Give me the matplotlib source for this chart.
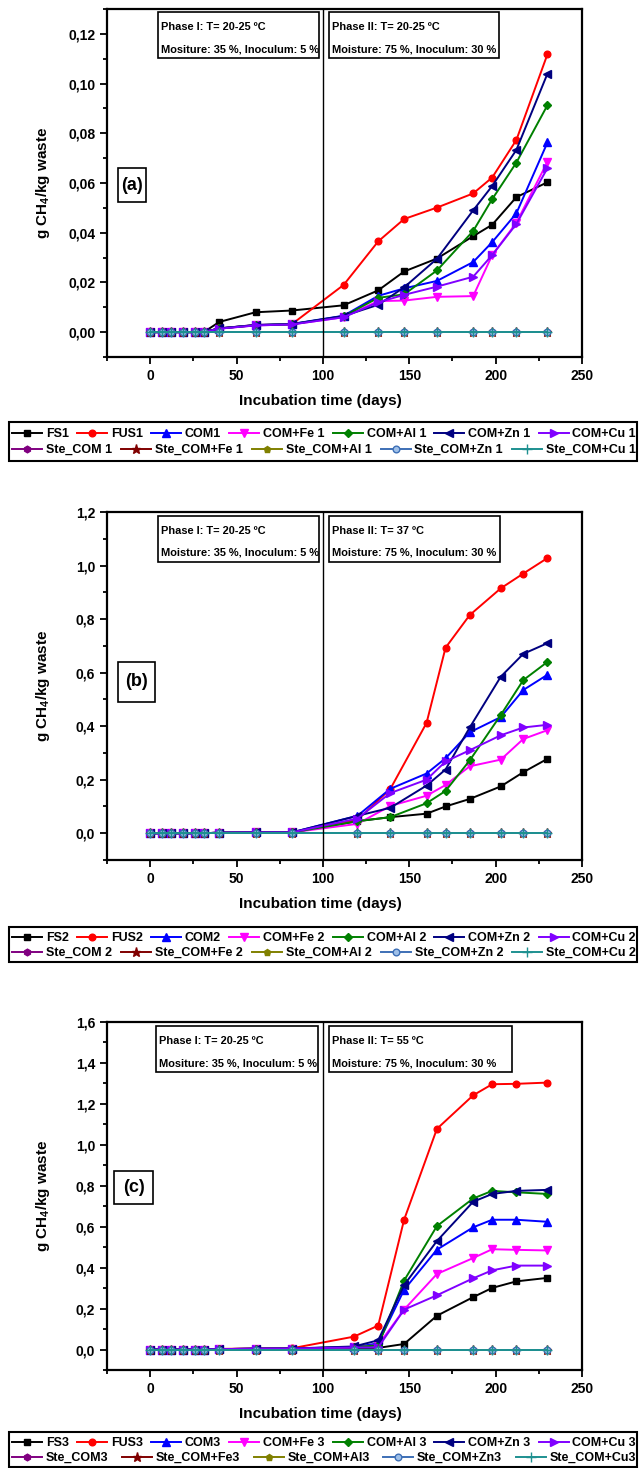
import matplotlib.pyplot as plt
from matplotlib.patches import Rectangle
from matplotlib.ticker import MultipleLocator, FuncFormatter

plt.rcParams['font.family'] = ['Liberation Sans', 'DejaVu Sans']
plt.rcParams['font.weight'] = 'bold'
plt.rcParams['axes.labelweight'] = 'bold'
plt.rcParams['mathtext.fontset'] = 'custom'
plt.rcParams['mathtext.rm'] = 'Liberation Sans:bold'
plt.rcParams['mathtext.bf'] = 'Liberation Sans:bold'
plt.rcParams['mathtext.default'] = 'bf'

# incubation days for each experiment
days1 = [0, 7, 12, 19, 26, 31, 40, 61, 82, 112, 132, 147, 166, 187, 198, 212, 230]
days2 = [0, 7, 12, 19, 26, 31, 40, 61, 82, 120, 139, 160, 171, 185, 203, 216, 230]
days3 = [0, 7, 12, 19, 26, 31, 40, 61, 82, 118, 132, 147, 166, 187, 198, 212, 230]

# sterilised controls gave no methane
ste_zero = [0, 0, 0, 0, 0, 0, 0, 0, 0, 0, 0, 0, 0, 0, 0, 0, 0]

# (a) phase II at 20-25 C
fs1 = [0, 0, 0, 0, 0, 0, 0.0041, 0.0080, 0.0087, 0.0108, 0.0168, 0.0244, 0.0296, 0.0386, 0.0432, 0.0543, 0.0603]
fus1 = [0, 0, 0, 0, 0, 0, 0.0015, 0.0029, 0.0032, 0.0190, 0.0365, 0.0455, 0.0501, 0.0558, 0.0622, 0.0773, 0.1118]
com1 = [0, 0, 0, 0, 0, 0, 0.0015, 0.0029, 0.0033, 0.0066, 0.0146, 0.0176, 0.0206, 0.0282, 0.0362, 0.0478, 0.0763]
fe1 = [0, 0, 0, 0, 0, 0, 0.0014, 0.0027, 0.0031, 0.0060, 0.0125, 0.0127, 0.0142, 0.0145, 0.0310, 0.0440, 0.0685]
al1 = [0, 0, 0, 0, 0, 0, 0.0015, 0.0028, 0.0032, 0.0064, 0.0138, 0.0152, 0.0248, 0.0407, 0.0535, 0.0682, 0.0913]
zn1 = [0, 0, 0, 0, 0, 0, 0.0015, 0.0028, 0.0032, 0.0065, 0.0110, 0.0180, 0.0295, 0.0490, 0.0588, 0.0733, 0.1040]
cu1 = [0, 0, 0, 0, 0, 0, 0.0014, 0.0027, 0.0031, 0.0060, 0.0120, 0.0150, 0.0183, 0.0223, 0.0310, 0.0435, 0.0660]

# (b) phase II at 37 C
fs2 = [0, 0, 0, 0, 0, 0, 0.002, 0.003, 0.003, 0.045, 0.060, 0.073, 0.100, 0.128, 0.175, 0.228, 0.278]
fus2 = [0, 0, 0, 0, 0, 0, 0.002, 0.003, 0.003, 0.050, 0.165, 0.412, 0.693, 0.815, 0.915, 0.970, 1.028]
com2 = [0, 0, 0, 0, 0, 0, 0.002, 0.003, 0.003, 0.065, 0.166, 0.223, 0.280, 0.377, 0.434, 0.535, 0.592]
fe2 = [0, 0, 0, 0, 0, 0, 0.002, 0.003, 0.003, 0.035, 0.102, 0.140, 0.180, 0.250, 0.275, 0.352, 0.385]
al2 = [0, 0, 0, 0, 0, 0, 0.002, 0.003, 0.003, 0.045, 0.060, 0.112, 0.158, 0.272, 0.442, 0.572, 0.640]
zn2 = [0, 0, 0, 0, 0, 0, 0.002, 0.003, 0.003, 0.065, 0.095, 0.178, 0.238, 0.395, 0.585, 0.670, 0.710]
cu2 = [0, 0, 0, 0, 0, 0, 0.002, 0.003, 0.003, 0.055, 0.150, 0.200, 0.268, 0.310, 0.366, 0.395, 0.405]

# (c) phase II at 55 C
fs3 = [0, 0, 0, 0, 0, 0, 0.002, 0.004, 0.005, 0.008, 0.008, 0.027, 0.165, 0.256, 0.301, 0.333, 0.350]
fus3 = [0, 0, 0, 0, 0, 0, 0.003, 0.005, 0.006, 0.063, 0.117, 0.634, 1.078, 1.242, 1.296, 1.298, 1.304]
com3 = [0, 0, 0, 0, 0, 0, 0.002, 0.004, 0.005, 0.012, 0.030, 0.292, 0.488, 0.597, 0.634, 0.634, 0.624]
fe3 = [0, 0, 0, 0, 0, 0, 0.002, 0.004, 0.005, 0.010, 0.022, 0.195, 0.369, 0.447, 0.490, 0.487, 0.484]
al3 = [0, 0, 0, 0, 0, 0, 0.002, 0.004, 0.005, 0.012, 0.020, 0.337, 0.603, 0.738, 0.775, 0.768, 0.760]
zn3 = [0, 0, 0, 0, 0, 0, 0.002, 0.004, 0.005, 0.015, 0.045, 0.315, 0.530, 0.722, 0.760, 0.775, 0.780]
cu3 = [0, 0, 0, 0, 0, 0, 0.002, 0.004, 0.005, 0.010, 0.010, 0.195, 0.265, 0.348, 0.387, 0.410, 0.410]

labels1 = ['FS1', 'FUS1', 'COM1', 'COM+Fe 1', 'COM+Al 1', 'COM+Zn 1', 'COM+Cu 1',
           'Ste_COM 1', 'Ste_COM+Fe 1', 'Ste_COM+Al 1', 'Ste_COM+Zn 1', 'Ste_COM+Cu 1']
labels2 = ['FS2', 'FUS2', 'COM2', 'COM+Fe 2', 'COM+Al 2', 'COM+Zn 2', 'COM+Cu 2',
           'Ste_COM 2', 'Ste_COM+Fe 2', 'Ste_COM+Al 2', 'Ste_COM+Zn 2', 'Ste_COM+Cu 2']
labels3 = ['FS3', 'FUS3', 'COM3', 'COM+Fe 3', 'COM+Al 3', 'COM+Zn 3', 'COM+Cu 3',
           'Ste_COM3', 'Ste_COM+Fe3', 'Ste_COM+Al3', 'Ste_COM+Zn3', 'Ste_COM+Cu3']

phase1_text = ['Phase I: T= 20-25 ºC\nMositure: 35 %, Inoculum: 5 %',
               'Phase I: T= 20-25 ºC\nMoisture: 35 %, Inoculum: 5 %',
               'Phase I: T= 20-25 ºC\nMositure: 35 %, Inoculum: 5 %']
phase2_text = ['Phase II: T= 20-25 ºC\nMoisture: 75 %, Inoculum: 30 %',
               'Phase II: T= 37 ºC\nMoisture: 75 %, Inoculum: 30 %',
               'Phase II: T= 55 ºC\nMoisture: 75 %, Inoculum: 30 %']

colors = ['#000000', '#FF0000', '#0000FF', '#FF00FF', '#008000', '#000080', '#8000FF',
          '#800080', '#800000', '#808000', '#3D6FB6', '#1E9090']
markers = ['s', 'o', '^', 'v', 'D', '<', '>', 'h', '*', 'p', 'o', '+']
msizes = [4.8, 4.8, 5.5, 5.5, 4.3, 5.5, 5.5, 4.8, 6.5, 4.8, 4.8, 6.5]

W, H = 640, 1468


def fx(p):
    return p / W


def fy(p):
    return 1 - p / H


fig = plt.figure(figsize=(6.4, 14.68), dpi=100)


def panel(top, days, ys, labels, ylim, ystep, fmt, letter, ptexts, boxes, lbox, leg):
    ax = fig.add_axes([fx(107), fy(top + 348), fx(475), 348 / H])
    lines = []
    for y, lab, c, m, ms in zip(ys, labels, colors, markers, msizes):
        mfc = '#9FC0E8' if lab.startswith('Ste_COM+Zn') else c
        ln, = ax.plot(days, y, color=c, marker=m, ms=ms, mfc=mfc, mec=c, mew=1.0, lw=1.4, label=lab)
        lines.append(ln)
    ax.axvline(100, color='black', lw=1.0)
    ax.set_xlim(-25, 250)
    ax.set_ylim(*ylim)
    ax.xaxis.set_major_locator(MultipleLocator(50))
    ax.xaxis.set_minor_locator(MultipleLocator(25))
    ax.yaxis.set_major_locator(MultipleLocator(ystep))
    ax.yaxis.set_minor_locator(MultipleLocator(ystep / 2))
    ax.yaxis.set_major_formatter(FuncFormatter(
        lambda v, _: (fmt % (0 if abs(v) < 1e-9 else v)).replace('.', ',')))
    ax.tick_params(which='both', direction='out', top=False, right=False, width=1.3, labelsize=10)
    ax.tick_params(which='major', length=5, pad=3.5)
    ax.tick_params(which='minor', length=3)
    for s in ax.spines.values():
        s.set_linewidth(1.6)
    ax.set_xlabel('Incubation time (days)', fontsize=11)
    ax.xaxis.set_label_coords(0.45, -0.105)
    ax.set_ylabel(r'g CH$_4$/kg waste', fontsize=11)
    ax.yaxis.set_label_coords(-0.115, 0.5)

    # phase annotation boxes
    for (x0, y0, x1, y1), t in zip(boxes, ptexts):
        fig.patches.append(Rectangle((fx(x0), fy(y1)), fx(x1 - x0), (y1 - y0) / H,
                                     transform=fig.transFigure, fill=False, lw=1.2, ec='black'))
        l1, l2 = t.split('\n')
        fig.text(fx(x0 + 3), fy(y0 + 15), l1, fontsize=7.9, va='center', ha='left')
        fig.text(fx(x0 + 3), fy(y0 + 37), l2, fontsize=7.9, va='center', ha='left')

    # panel letter
    x0, y0, x1, y1 = lbox
    fig.patches.append(Rectangle((fx(x0), fy(y1)), fx(x1 - x0), (y1 - y0) / H,
                                 transform=fig.transFigure, fill=False, lw=1.2, ec='black'))
    fig.text(fx((x0 + x1) / 2), fy((y0 + y1) / 2), letter, fontsize=13, ha='center', va='center')

    # legend: two independent rows inside one frame
    btop, bbot, r1, r2 = leg
    fig.patches.append(Rectangle((fx(9), fy(bbot)), fx(628), (bbot - btop) / H,
                                 transform=fig.transFigure, fill=False, lw=1.5, ec='black'))
    for hs, row in ((lines[:7], r1), (lines[7:], r2)):
        fig.legend(hs, [h.get_label() for h in hs], loc='center', ncol=len(hs), mode='expand',
                   bbox_to_anchor=(fx(12), fy(row + 7), fx(624), 14 / H),
                   bbox_transform=fig.transFigure, frameon=False, borderpad=0, borderaxespad=0,
                   handlelength=2.4, handletextpad=0.3, fontsize=9)
    return ax


panel(9, days1, [fs1, fus1, com1, fe1, al1, zn1, cu1, ste_zero, ste_zero, ste_zero, ste_zero, ste_zero],
      labels1, (-0.01, 0.13), 0.02, '%.2f', '(a)', [phase1_text[0], phase2_text[0]],
      [(158, 12, 319, 58), (329, 12, 499, 58)], (118, 168, 146, 202), (422, 461, 434, 450))

panel(512, days2, [fs2, fus2, com2, fe2, al2, zn2, cu2, ste_zero, ste_zero, ste_zero, ste_zero, ste_zero],
      labels2, (-0.1, 1.2), 0.2, '%.1f', '(b)', [phase1_text[1], phase2_text[1]],
      [(158, 516, 319, 562), (329, 516, 500, 562)], (118, 662, 155, 702), (927, 962, 938, 953))

panel(1022, days3, [fs3, fus3, com3, fe3, al3, zn3, cu3, ste_zero, ste_zero, ste_zero, ste_zero, ste_zero],
      labels3, (-0.1, 1.6), 0.2, '%.1f', '(c)', [phase1_text[2], phase2_text[2]],
      [(156, 1026, 318, 1072), (329, 1026, 512, 1072)], (114, 1171, 153, 1204), (1432, 1467, 1443, 1458))

fig.savefig('out.png', dpi=100)
